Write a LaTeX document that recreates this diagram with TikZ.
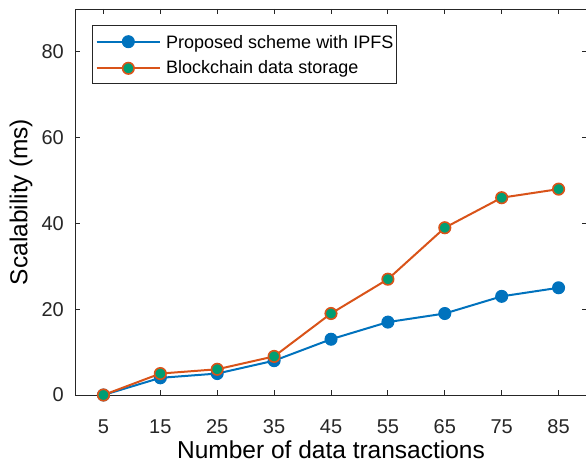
\documentclass[tikz,border=0pt]{standalone}
\usepackage{fontspec}
\setmainfont{Liberation Sans}
\usepackage{tikz}
\usetikzlibrary{calc}

\definecolor{lineblue}{rgb}{0,0.447,0.741}
\definecolor{lineorange}{rgb}{0.85,0.325,0.098}
\definecolor{markgreen}{rgb}{0,0.62,0.45}
\definecolor{axisgray}{gray}{0.15}

\tikzset{
  axisline/.style={draw=axisgray,line width=0.9pt},
  ticklabel/.style={font=\fontsize{20}{24}\selectfont,text=axisgray,inner sep=0pt},
  axislabel/.style={font=\fontsize{24.5}{29}\selectfont,inner sep=0pt},
  legendtext/.style={font=\fontsize{18}{22}\selectfont,inner sep=0pt,anchor=base west},
  blueline/.style={draw=lineblue,line width=2pt},
  orangeline/.style={draw=lineorange,line width=2pt},
  bluemark/.style={circle,fill=lineblue,draw=lineblue,line width=1pt,
                   minimum size=12pt,inner sep=0pt},
  orangemark/.style={circle,fill=markgreen,draw=lineorange,line width=1.6pt,
                     minimum size=11.5pt,inner sep=0pt},
}

\begin{document}
\begin{tikzpicture}[x=1pt,y=1pt]
  \useasboundingbox (0,0) rectangle (586,466);

  \begin{scope}[shift={(75,71)},x=5.689pt,y=4.289pt]
    % frame and ticks
    \draw[axisline] (0,0) rectangle (90,90);
    \foreach \v in {5,15,...,85} {
      \draw[axisline] (\v,0) -- ++(0,5pt);
      \draw[axisline] (\v,90) -- ++(0,-5pt);
      \node[ticklabel] (xt\v) at (\v,-7.34) {\v};
    }
    \foreach \w in {0,20,...,80} {
      \draw[axisline] (0,\w) -- ++(5pt,0);
      \draw[axisline] (90,\w) -- ++(-5pt,0);
      \node[ticklabel,anchor=east] (yt\w) at ([xshift=-11pt]0,\w) {\w};
    }
    \node[axislabel,anchor=base] (xlabel) at (45,-14.7) {Number of data transactions};
    \node[axislabel,anchor=base,rotate=90] (ylabel) at (-8.38,45) {Scalability (ms)};

    % data points
    \foreach \v/\b/\o [count=\i] in {5/0/0,15/4/5,25/5/6,35/8/9,45/13/19,
                                     55/17/27,65/19/39,75/23/46,85/25/48} {
      \coordinate (b\i) at (\v,\b);
      \coordinate (o\i) at (\v,\o);
    }
    \draw[blueline] (b1) \foreach \i in {2,...,9} { -- (b\i) };
    \foreach \i in {1,...,9} \node[bluemark] (bm\i) at (b\i) {};
    \draw[orangeline] (o1) \foreach \i in {2,...,9} { -- (o\i) };
    \foreach \i in {1,...,9} \node[orangemark] (om\i) at (o\i) {};
  \end{scope}

  % legend
  \node[draw=axisgray,fill=white,line width=0.8pt,minimum width=304pt,
        minimum height=58pt,anchor=north west] (legend) at (91.7,441) {};
  \coordinate (l1a) at (96.7,424.3);
  \coordinate (l1b) at (160,424.3);
  \coordinate (l2a) at (96.7,397.7);
  \coordinate (l2b) at (160,397.7);
  \draw[blueline] (l1a) -- (l1b);
  \node[bluemark] (lm1) at ($(l1a)!0.5!(l1b)$) {};
  \draw[orangeline] (l2a) -- (l2b);
  \node[orangemark] (lm2) at ($(l2a)!0.5!(l2b)$) {};
  \node[legendtext] (lt1) at (166,417.7) {Proposed scheme with IPFS};
  \node[legendtext] (lt2) at (166,392) {Blockchain data storage};
\end{tikzpicture}
\end{document}
